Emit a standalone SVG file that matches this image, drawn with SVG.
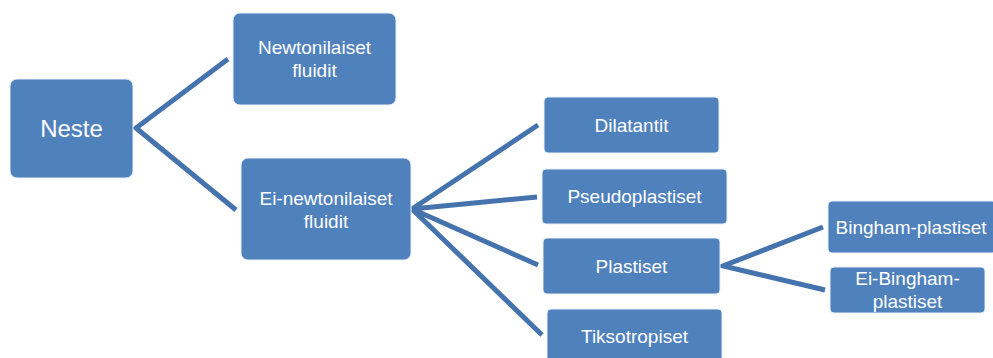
<svg xmlns="http://www.w3.org/2000/svg" width="993" height="358" viewBox="0 0 993 358">
<style>
.box{fill:#4F81BD;stroke:#e8eef7;stroke-width:1}
.t{fill:#ffffff;font-family:"Liberation Sans",Arial,sans-serif;font-size:19px;text-anchor:middle;dominant-baseline:central}
.big{font-size:24px}
.c{stroke:#4573AD;stroke-width:5;fill:none;stroke-linejoin:miter}
</style>
<rect width="993" height="358" fill="#ffffff"/>
<g id="connectors">
<polyline class="c" points="228,59 136,128 236,210"/>
<path class="c" d="M538,125 L412,209 L537,197 M412,209 L538,265 M412,209 L542,335"/>
<polyline class="c" points="823,227 723,266 825,290"/>
</g>
<g id="neste"><rect class="box" x="10" y="79" width="123" height="99" rx="7"/><text class="t big" x="71.5" y="128.5">Neste</text></g>
<g id="newtonilaiset"><rect class="box" x="233" y="13" width="163" height="92" rx="7"/><text class="t" x="314.5" y="47">Newtonilaiset</text><text class="t" x="314.5" y="70">fluidit</text></g>
<g id="ei-newtonilaiset"><rect class="box" x="241" y="158" width="170" height="102" rx="7"/><text class="t" x="326" y="198">Ei-newtonilaiset</text><text class="t" x="326" y="221">fluidit</text></g>
<g id="dilatantit"><rect class="box" x="544" y="97" width="175" height="56" rx="4"/><text class="t" x="631.5" y="125">Dilatantit</text></g>
<g id="pseudoplastiset"><rect class="box" x="542" y="169" width="185" height="55" rx="4"/><text class="t" x="634.5" y="196.5">Pseudoplastiset</text></g>
<g id="plastiset"><rect class="box" x="543" y="238" width="177" height="56" rx="4"/><text class="t" x="631.5" y="266">Plastiset</text></g>
<g id="tiksotropiset"><rect class="box" x="547" y="309" width="175" height="56" rx="4"/><text class="t" x="634.5" y="336">Tiksotropiset</text></g>
<g id="bingham"><rect class="box" x="828" y="201" width="168" height="52" rx="4"/><text class="t" x="911" y="227">Bingham-plastiset</text></g>
<g id="ei-bingham"><rect class="box" x="830" y="267" width="155" height="46" rx="4"/><text class="t" x="907.5" y="278.5">Ei-Bingham-</text><text class="t" x="907.5" y="301">plastiset</text></g>
</svg>
